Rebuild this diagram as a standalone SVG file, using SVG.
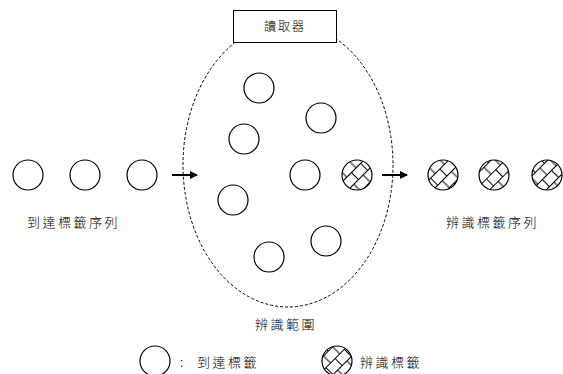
<svg xmlns="http://www.w3.org/2000/svg" width="563" height="374" viewBox="0 0 563 374">
<style>
.tag{fill:#fff;stroke:#000;stroke-width:1.2}
.hat{fill:url(#brick);stroke:#000;stroke-width:1.2}
.lbl{font-family:"Noto Sans CJK TC","Noto Sans CJK SC",sans-serif;font-size:13px;font-weight:300;fill:#000;letter-spacing:2.5px}
.conn{stroke:#000;stroke-width:2;fill:none}
</style>
<defs>
<pattern id="brick" patternUnits="userSpaceOnUse" width="13" height="20" patternTransform="rotate(-45)">
<rect width="13" height="20" fill="#fff"/>
<path d="M0 0.5H13M0 10.5H13M3 0.5V10.5M9.5 10.5V20.5" stroke="#000" stroke-width="1" fill="none"/>
</pattern>
<marker id="ah" markerWidth="8" markerHeight="8" refX="7" refY="4" orient="auto" markerUnits="userSpaceOnUse">
<path d="M0 0L8 4L0 8Z" fill="#000"/>
</marker>
</defs>
<rect width="563" height="374" fill="#fff"/>
<g id="range">
<ellipse cx="288" cy="165" rx="105" ry="142" fill="none" stroke="#000" stroke-width="1" stroke-dasharray="3,2"/>
<text class="lbl" x="255" y="329">辨識範圍</text>
</g>
<g id="reader">
<rect x="233.5" y="10.5" width="103" height="32" fill="#fff" stroke="#000" stroke-width="1"/>
<text class="lbl" x="285" y="31" text-anchor="middle" style="font-size:12px;letter-spacing:2px">讀取器</text>
</g>
<g id="arriving-seq">
<circle class="tag" cx="28" cy="175" r="15"/>
<circle class="tag" cx="85" cy="175" r="15"/>
<circle class="tag" cx="142" cy="175" r="15"/>
<text class="lbl" x="27" y="227">到達標籤序列</text>
</g>
<g id="in-range">
<circle class="tag" cx="259" cy="88" r="15"/>
<circle class="tag" cx="321" cy="118" r="15"/>
<circle class="tag" cx="244" cy="139" r="15"/>
<circle class="tag" cx="305" cy="175" r="15"/>
<circle class="hat" cx="357" cy="175" r="15"/>
<circle class="tag" cx="233" cy="200" r="15"/>
<circle class="tag" cx="326" cy="241" r="15"/>
<circle class="tag" cx="269" cy="257" r="15"/>
</g>
<g id="identified-seq">
<circle class="hat" cx="443" cy="175" r="15"/>
<circle class="hat" cx="494" cy="175" r="15"/>
<circle class="hat" cx="547" cy="175" r="15"/>
<text class="lbl" x="446" y="227">辨識標籤序列</text>
</g>
<g id="legend">
<circle class="tag" cx="155" cy="361" r="15"/>
<text class="lbl" x="180" y="367">:</text>
<text class="lbl" x="197" y="367">到達標籤</text>
<circle class="hat" cx="337" cy="361" r="15"/>
<text class="lbl" x="360" y="367">辨識標籤</text>
</g>
<g id="connectors">
<line class="conn" x1="172" y1="175" x2="197" y2="175" marker-end="url(#ah)"/>
<line class="conn" x1="382" y1="175" x2="407" y2="175" marker-end="url(#ah)"/>
</g>
</svg>
